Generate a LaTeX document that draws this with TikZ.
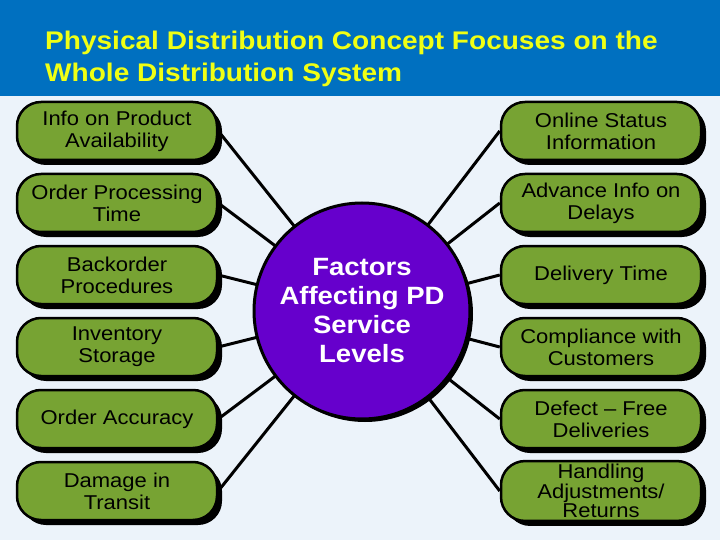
\documentclass[tikz,border=0pt]{standalone}
\usepackage{fontspec}
\setmainfont[FakeStretch=1.1]{Liberation Sans}
\usetikzlibrary{shadows}

\definecolor{titleblue}{RGB}{0,112,192}
\definecolor{titleyellow}{RGB}{240,255,20}
\definecolor{slidebg}{RGB}{236,243,250}
\definecolor{boxgreen}{RGB}{119,163,51}
\definecolor{hubpurple}{RGB}{102,0,204}

\tikzset{
  factor/.style={draw=black, line width=2.5pt, fill=boxgreen, rounded corners=24pt,
    minimum width=200pt, minimum height=58pt, align=center,
    font=\fontsize{20}{22}\selectfont,
    drop shadow={shadow xshift=5pt, shadow yshift=-5pt, fill=black, opacity=1}},
  hub/.style={circle, draw=black, line width=3pt, fill=hubpurple, minimum size=216pt,
    align=center, text=white, font=\fontsize{25}{29}\selectfont\bfseries,
    drop shadow={shadow xshift=3pt, shadow yshift=-3pt, fill=black, opacity=1}},
  link/.style={line width=3pt, black}
}

\begin{document}
\begin{tikzpicture}[x=1pt, y=-1pt]
    % Slide background and title bar
    \fill[slidebg] (0,0) rectangle (720,540);
    \useasboundingbox (0,0) rectangle (720,540);
    \fill[titleblue] (0,0) rectangle (720,96);
    \node[anchor=west, text=titleyellow, align=left, inner sep=0pt,
      font=\fontsize{25.5}{32}\selectfont\bfseries] (title) at (45,59)
      {Physical Distribution Concept Focuses on the\\Whole Distribution System};

    % Left column
    \node[factor] (info) at (117,131) {Info on Product\\Availability};
    \node[factor] (ordproc) at (117,203) {Order Processing\\Time};
    \node[factor] (backorder) at (117,275) {Backorder\\Procedures};
    \node[factor] (inventory) at (117,347) {Inventory\\Storage};
    \node[factor] (accuracy) at (117,419) {Order Accuracy};
    \node[factor] (damage) at (117,491) {Damage in\\Transit};

    % Right column
    \node[factor] (online) at (601,131) {Online Status\\Information};
    \node[factor] (advance) at (601,203) {Advance Info on\\Delays};
    \node[factor] (delivery) at (601,275) {Delivery Time};
    \node[factor] (compliance) at (601,347) {Compliance with\\Customers};
    \node[factor] (defect) at (601,419) {Defect -- Free\\Deliveries};
    \node[factor, font=\fontsize{20}{17}\selectfont] (handling) at (601,491) {Handling\\Adjustments/\\Returns};

    % Spokes to the hub centre
    \coordinate (hubc) at (362,311);
    \foreach \n in {info, ordproc, backorder, inventory, accuracy, damage}
      \draw[link] (\n.east) -- (hubc);
    \foreach \n in {online, advance, delivery, compliance, defect, handling}
      \draw[link] (\n.west) -- (hubc);

    % Hub
    \node[hub] (factors) at (hubc) {Factors\\Affecting PD\\Service\\Levels};
\end{tikzpicture}
\end{document}
